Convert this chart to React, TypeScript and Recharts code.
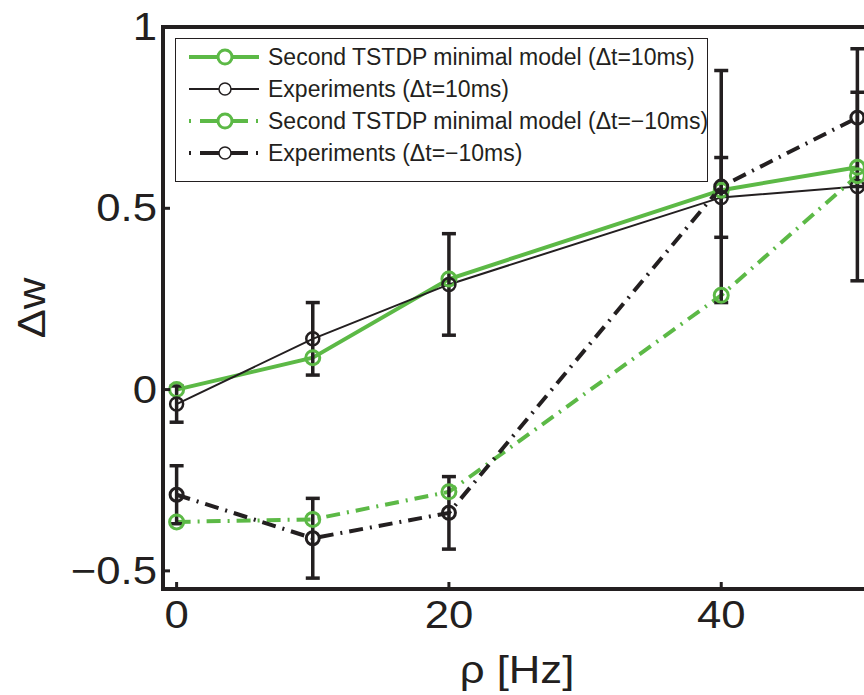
import React from 'react';
import { LineChart, Line, XAxis, YAxis, ErrorBar, ReferenceArea, Legend } from 'recharts';

// ---- data ----
const frequencies = [0, 10, 20, 40, 50];
const modelPos = [0.0, 0.088, 0.305, 0.55, 0.613];
const expPos = [-0.04, 0.14, 0.29, 0.53, 0.56];
const expPosErr = [0.05, 0.1, 0.14, 0.11, 0.26];
const modelNeg = [-0.365, -0.358, -0.282, 0.26, 0.59];
const expNeg = [-0.29, -0.41, -0.34, 0.56, 0.75];
const expNegErr = [0.08, 0.11, 0.1, 0.32, 0.19];

const xTicks = [0, 20, 40];
const yTicks = [-0.5, 0, 0.5, 1];
const xDomain = [-1, 51];
const yDomain = [-0.55, 1];

const legendLabels = [
  'Second TSTDP minimal model (\u0394t=10ms)',
  'Experiments (\u0394t=10ms)',
  'Second TSTDP minimal model (\u0394t=\u221210ms)',
  'Experiments (\u0394t=\u221210ms)',
];
const xTitle = '\u03c1 [Hz]';
const yTitle = '\u0394w';

const GREEN = '#5cb946';
const BLACK = '#231f20';
const FONT = '"Liberation Sans", Arial, Helvetica, sans-serif';
const DASHDOT = '14 7 2 7';
const SX = 1.15;

const data = frequencies.map((f, i) => ({
  f,
  modelPos: modelPos[i],
  expPos: expPos[i],
  expPosErr: expPosErr[i],
  modelNeg: modelNeg[i],
  expNeg: expNeg[i],
  expNegErr: expNegErr[i],
}));

const fmt = (v: number) => (v < 0 ? '\u2212' + Math.abs(v) : String(v));

const BottomTick = (props: any) => {
  const { x, y, payload } = props;
  return (
    <g>
      <line x1={x} y1={y} x2={x} y2={y - 7} stroke={BLACK} strokeWidth={3} />
      <text
        transform={`translate(${x} ${y + 39}) scale(${SX} 1)`}
        textAnchor="middle"
        fontSize={38}
        fill={BLACK}
        fontFamily={FONT}
      >
        {fmt(payload.value)}
      </text>
    </g>
  );
};

const TopTick = (props: any) => {
  const { x, y } = props;
  return <line x1={x} y1={y} x2={x} y2={y + 7} stroke={BLACK} strokeWidth={3} />;
};

const LeftTick = (props: any) => {
  const { x, y, payload } = props;
  return (
    <g>
      <line x1={x} y1={y} x2={x + 7} y2={y} stroke={BLACK} strokeWidth={3} />
      <text
        transform={`translate(${x - 6} ${y + 13}) scale(${SX} 1)`}
        textAnchor="end"
        fontSize={38}
        fill={BLACK}
        fontFamily={FONT}
      >
        {fmt(payload.value)}
      </text>
    </g>
  );
};

const XTitle = (props: any) => {
  const vb = props.viewBox || {};
  return (
    <text
      transform={`translate(${vb.x + vb.width / 2} ${vb.y + 94}) scale(${SX} 1)`}
      textAnchor="middle"
      fontSize={38}
      fill={BLACK}
      fontFamily={FONT}
    >
      {xTitle}
    </text>
  );
};

const YTitle = (props: any) => {
  const vb = props.viewBox || {};
  const cx = 45;
  const cy = vb.y + vb.height / 2;
  return (
    <text
      transform={`translate(${cx} ${cy}) rotate(-90) scale(${SX} 1)`}
      textAnchor="middle"
      fontSize={38}
      fill={BLACK}
      fontFamily={FONT}
    >
      {yTitle}
    </text>
  );
};

const legendStyles = [
  { color: GREEN, width: 4, dash: false, r: 7, sw: 3 },
  { color: BLACK, width: 2, dash: false, r: 6, sw: 1.5 },
  { color: GREEN, width: 4, dash: true, r: 7, sw: 3 },
  { color: BLACK, width: 4, dash: true, r: 6, sw: 1.5 },
];

const LegendContent = () => (
  <div
    style={{
      border: `1.5px solid ${BLACK}`,
      background: '#fff',
      boxSizing: 'border-box',
      width: 533,
      height: 144,
      paddingTop: 2,
      fontFamily: FONT,
    }}
  >
    {legendLabels.map((label, i) => {
      const s = legendStyles[i];
      return (
        <div key={i} style={{ height: 32, display: 'flex', alignItems: 'center' }}>
          <svg width={92} height={32} style={{ flex: 'none' }}>
            <line
              x1={13}
              x2={83}
              y1={16}
              y2={16}
              stroke={s.color}
              strokeWidth={s.width}
              strokeDasharray={s.dash ? '2 9 48 8 2' : undefined}
            />
            <circle cx={49} cy={16} r={s.r} fill="#fff" stroke={s.color} strokeWidth={s.sw} />
          </svg>
          <span style={{ fontSize: 23, color: BLACK, lineHeight: '32px', whiteSpace: 'nowrap' }}>{label}</span>
        </div>
      );
    })}
  </div>
);

export default function App() {
  return (
    <div
      style={{
        position: 'fixed',
        left: 0,
        top: 0,
        width: 864,
        height: 695,
        overflow: 'hidden',
        background: '#fff',
        fontFamily: FONT,
      }}
    >
      <LineChart width={900} height={695} data={data} margin={{ top: 27, right: 29, bottom: 0, left: 0 }}>
        <XAxis
          dataKey="f"
          type="number"
          domain={xDomain}
          ticks={xTicks}
          height={106}
          axisLine={false}
          tickLine={false}
          tickSize={0}
          tickMargin={0}
          tick={<BottomTick />}
          label={<XTitle />}
          interval={0}
        />
        <XAxis
          xAxisId="top"
          orientation="top"
          dataKey="f"
          type="number"
          domain={xDomain}
          ticks={xTicks}
          height={0}
          axisLine={false}
          tickLine={false}
          tickSize={0}
          tickMargin={0}
          tick={<TopTick />}
          interval={0}
        />
        <YAxis
          type="number"
          domain={yDomain}
          ticks={yTicks}
          width={163}
          axisLine={false}
          tickLine={false}
          tickSize={0}
          tickMargin={0}
          tick={<LeftTick />}
          label={<YTitle />}
          interval={0}
          allowDataOverflow
        />
        <ReferenceArea
          x1={xDomain[0]}
          x2={xDomain[1]}
          y1={yDomain[0]}
          y2={yDomain[1]}
          fill="none"
          stroke={BLACK}
          strokeWidth={4}
          ifOverflow="visible"
        />
        <Line
          dataKey="modelPos"
          type="linear"
          stroke={GREEN}
          strokeWidth={4}
          dot={{ r: 7, stroke: GREEN, strokeWidth: 3, fill: 'none', strokeDasharray: 'none' }}
          activeDot={false}
          isAnimationActive={false}
        />
        <Line
          dataKey="expPos"
          type="linear"
          stroke={BLACK}
          strokeWidth={2}
          dot={{ r: 6.5, stroke: BLACK, strokeWidth: 2.5, fill: 'none', strokeDasharray: 'none' }}
          activeDot={false}
          isAnimationActive={false}
        >
          <ErrorBar dataKey="expPosErr" direction="y" width={7} strokeWidth={3.5} stroke={BLACK} />
        </Line>
        <Line
          dataKey="modelNeg"
          type="linear"
          stroke={GREEN}
          strokeWidth={4}
          strokeDasharray={DASHDOT}
          dot={{ r: 7, stroke: GREEN, strokeWidth: 3, fill: 'none', strokeDasharray: 'none' }}
          activeDot={false}
          isAnimationActive={false}
        />
        <Line
          dataKey="expNeg"
          type="linear"
          stroke={BLACK}
          strokeWidth={4}
          strokeDasharray={DASHDOT}
          dot={{ r: 6.5, stroke: BLACK, strokeWidth: 3, fill: 'none', strokeDasharray: 'none' }}
          activeDot={false}
          isAnimationActive={false}
        >
          <ErrorBar dataKey="expNegErr" direction="y" width={7} strokeWidth={3.5} stroke={BLACK} />
        </Line>
        <Legend
          layout="horizontal"
          verticalAlign="middle"
          align="center"
          content={<LegendContent />}
          wrapperStyle={{ left: 175, top: 38, width: 533, height: 144 }}
        />
      </LineChart>
    </div>
  );
}
